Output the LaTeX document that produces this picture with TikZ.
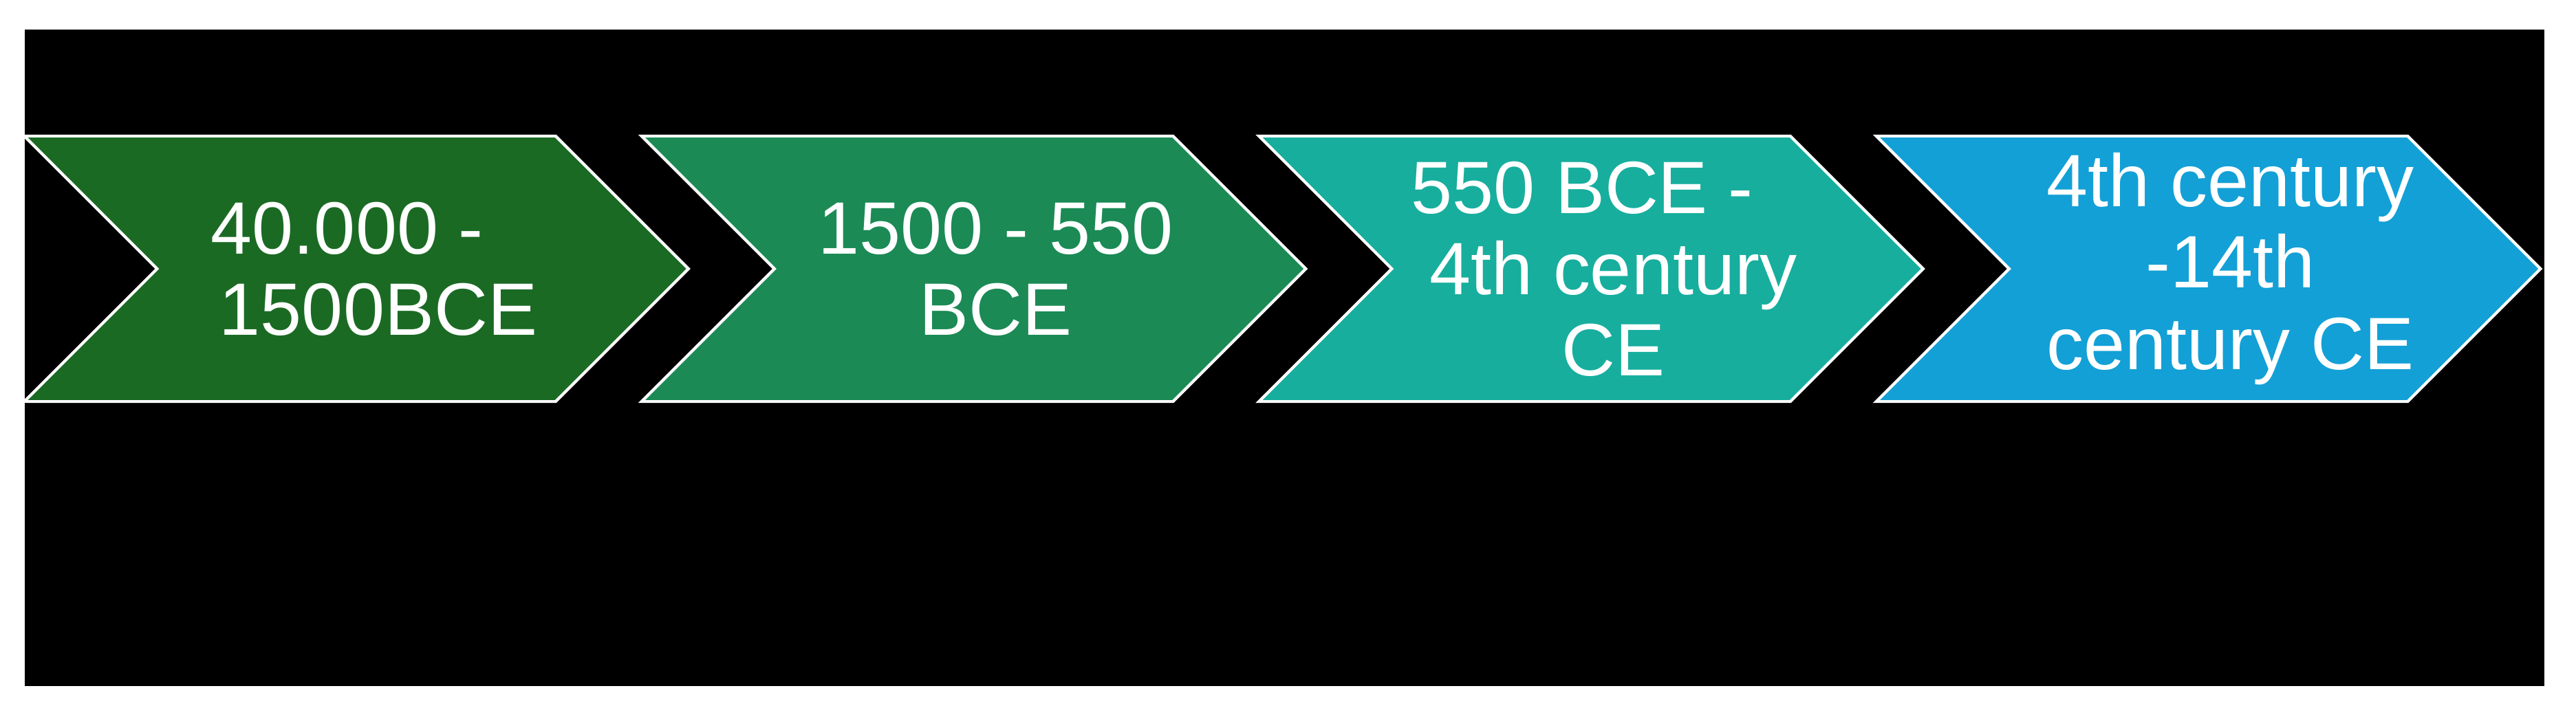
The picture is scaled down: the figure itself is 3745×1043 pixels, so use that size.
\documentclass[tikz,border=0pt]{standalone}
\usepackage{fontspec}
\setmainfont{Liberation Sans}
\usepackage{tikz}
\usetikzlibrary{shapes, positioning}

\definecolor{eraone}{RGB}{27,106,36}
\definecolor{eratwo}{RGB}{27,138,85}
\definecolor{erathree}{RGB}{23,174,158}
\definecolor{erafour}{RGB}{19,160,214}

\begin{document}
\begin{tikzpicture}[x=0.01cm, y=-0.01cm]
	\tikzstyle{chevron} = [draw=white, line width=1.2pt, signal, signal from=west, signal to=east, signal pointer angle=90, minimum width=9.65cm, minimum height=3.86cm, inner sep=0pt, outer sep=0pt]
	\tikzstyle{era} = [text=white, align=center, inner sep=0pt, font=\fontsize{30.7}{33.6}\selectfont]

	\fill[white] (0,0) rectangle (3745,1043);
	\fill[black] (36,43) rectangle (3699,998);

	\begin{scope}
		\path
			node[chevron, fill=eraone] (c1) at (518,391) {}
			node[era, xshift=0.32cm] (t1) at (c1.center) {40.000 -\hspace*{0.9cm}\\1500BCE}
		;
	\end{scope}

	\begin{scope}[xshift=8.97cm]
		\path
			node[chevron, fill=eratwo] (c2) at (518,391) {}
			node[era, xshift=0.32cm] (t2) at (c2.center) {1500 - 550\\BCE}
		;
	\end{scope}

	\begin{scope}[xshift=17.94cm]
		\path
			node[chevron, fill=erathree] (c3) at (518,391) {}
			node[era, xshift=0.32cm] (t3) at (c3.center) {550 BCE -\hspace*{0.9cm}\\4th century\\CE}
		;
	\end{scope}

	\begin{scope}[xshift=26.91cm]
		\path
			node[chevron, fill=erafour] (c4) at (518,391) {}
			node[era, xshift=0.32cm] (t4) at (c4.center) {4th century\\-14th\hspace*{0.4cm}\\century CE}
		;
	\end{scope}
\end{tikzpicture}
\end{document}
